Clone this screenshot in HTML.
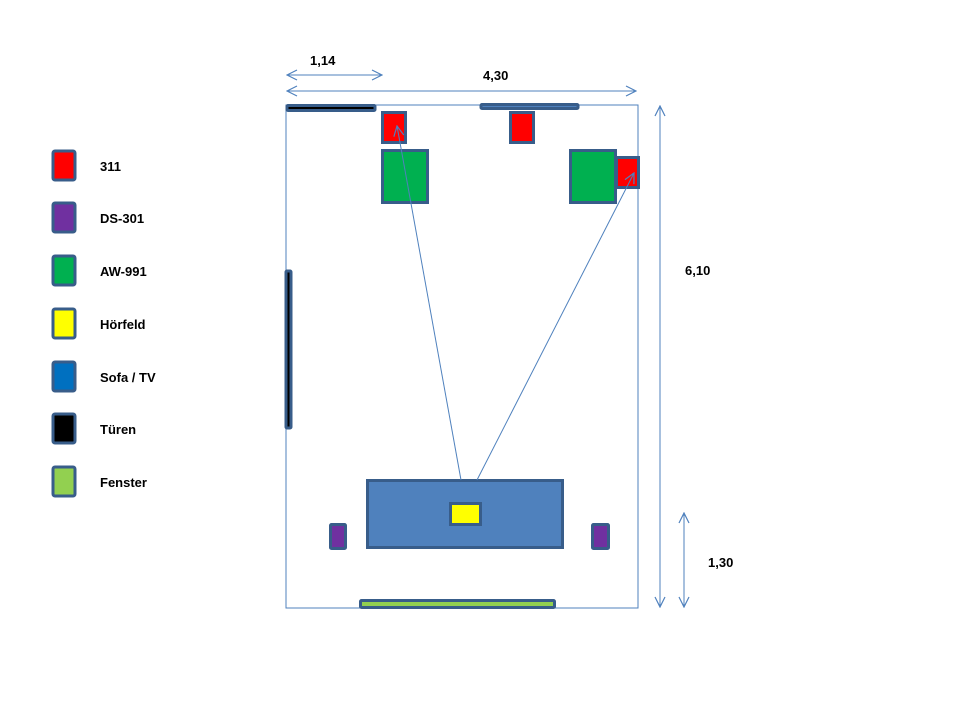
<!DOCTYPE html>
<html><head><meta charset="utf-8"><style>
html,body{margin:0;padding:0;background:#fff;}
svg{display:block;}
text{font-family:"Liberation Sans","DejaVu Sans",sans-serif;font-weight:bold;font-size:13px;fill:#000;}
</style></head><body>
<svg width="960" height="720" viewBox="0 0 960 720" xmlns="http://www.w3.org/2000/svg">
<defs>
<marker id="ah" viewBox="0 0 12 12" refX="11" refY="6" markerWidth="12" markerHeight="12" markerUnits="userSpaceOnUse" orient="auto-start-reverse">
<path d="M1,1 L11,6 L1,11" fill="none" stroke="#4f81bd" stroke-width="1.2"/>
</marker>
</defs>
<g stroke="#385d8a" stroke-width="3">
<rect x="53" y="151" width="22" height="29" rx="2" fill="#ff0000"/>
<rect x="53" y="203" width="22" height="29" rx="2" fill="#7030a0"/>
<rect x="53" y="256" width="22" height="29" rx="2" fill="#00b050"/>
<rect x="53" y="309" width="22" height="29" rx="2" fill="#ffff00"/>
<rect x="53" y="362" width="22" height="29" rx="2" fill="#0070c0"/>
<rect x="53" y="414" width="22" height="29" rx="2" fill="#000000"/>
<rect x="53" y="467" width="22" height="29" rx="2" fill="#92d050"/>
</g>
<text x="100" y="171">311</text>
<text x="100" y="223">DS-301</text>
<text x="100" y="276">AW-991</text>
<text x="100" y="329">Hörfeld</text>
<text x="100" y="382">Sofa / TV</text>
<text x="100" y="434">Türen</text>
<text x="100" y="487">Fenster</text>

<rect x="286" y="105" width="352" height="503" fill="none" stroke="#4f81bd" stroke-width="1"/>

<g stroke="#4f81bd" stroke-width="1" fill="none">
<line x1="287" y1="75" x2="382" y2="75" marker-start="url(#ah)" marker-end="url(#ah)"/>
<line x1="287" y1="91" x2="636" y2="91" marker-start="url(#ah)" marker-end="url(#ah)"/>
<line x1="660" y1="106" x2="660" y2="607" marker-start="url(#ah)" marker-end="url(#ah)"/>
<line x1="684" y1="513" x2="684" y2="607" marker-start="url(#ah)" marker-end="url(#ah)"/>
</g>
<text x="310" y="65">1,14</text>
<text x="483" y="80">4,30</text>
<text x="685" y="275">6,10</text>
<text x="708" y="567">1,30</text>

<g stroke="#385d8a" stroke-width="3">
<rect x="287" y="105.5" width="88" height="5" rx="1" fill="#000"/>
<rect x="481" y="104.5" width="97" height="4" rx="1" fill="#4f81bd"/>
<rect x="382.5" y="112.5" width="23" height="30" fill="#ff0000"/>
<rect x="510.5" y="112.5" width="23" height="30" fill="#ff0000"/>
<rect x="382.5" y="150.5" width="45" height="52" fill="#00b050"/>
<rect x="570.5" y="150.5" width="45" height="52" fill="#00b050"/>
<rect x="616.5" y="157.5" width="22" height="30" fill="#ff0000"/>
<rect x="286" y="271" width="5" height="157" rx="1" fill="#000"/>
<rect x="367.5" y="480.5" width="195" height="67" fill="#4f81bd"/>
<rect x="450.5" y="503.5" width="30" height="21" fill="#ffff00"/>
<rect x="330.5" y="524.5" width="15" height="24" rx="1" fill="#7030a0"/>
<rect x="592.5" y="524.5" width="16" height="24" rx="1" fill="#7030a0"/>
<rect x="360.5" y="600.5" width="194" height="7" rx="1" fill="#92d050"/>
</g>

<g stroke="#4f81bd" stroke-width="1" fill="none">
<line x1="461" y1="480" x2="397" y2="126" marker-end="url(#ah)"/>
<line x1="477" y1="480" x2="634" y2="173" marker-end="url(#ah)"/>
</g>
</svg>
</body></html>
